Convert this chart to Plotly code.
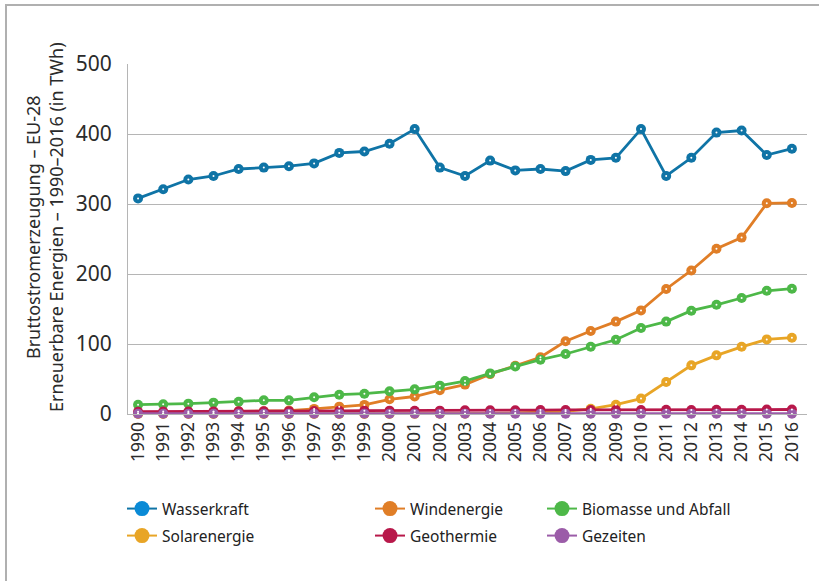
import plotly.graph_objects as go

years = list(range(1990, 2017))

wasserkraft = [308, 321, 335, 340, 350, 352, 354, 358, 373, 375, 386, 407, 352,
               340, 362, 348, 350, 347, 363, 366, 407, 340, 366, 402, 405, 370, 379]
windenergie = [0.8, 1.2, 1.9, 2.9, 3.8, 4.1, 4.9, 7.3, 10.5, 13, 21, 25, 34,
               42, 57, 69, 81, 104, 118.6, 132, 148, 178.6, 205, 236, 252, 301, 301.5]
biomasse = [13.3, 13.8, 14.8, 16.2, 17.6, 19.5, 19.5, 24, 27.6, 29, 32.4, 35.2, 40.5,
            47, 58, 68, 77.6, 85.7, 96, 106, 122.9, 132, 147.6, 156, 165.7, 176, 179]
solar = [0.0, 0.0, 0.0, 0.0, 0.0, 0.0, 0.0, 0.0, 0.1, 0.1, 0.1, 0.2, 0.3,
         0.5, 0.7, 1.5, 2.5, 3.8, 7.4, 13.3, 22, 45.7, 69.5, 83.8, 96, 106.6, 109]
geothermie = [3.2, 3.5, 3.6, 3.7, 3.8, 3.9, 4.1, 4.3, 4.6, 4.8, 4.8, 4.6, 4.8,
              5.3, 5.4, 5.4, 5.6, 5.8, 5.8, 5.6, 5.6, 5.9, 5.8, 5.9, 6.1, 6.5, 6.4]
gezeiten = [0.5] * 27

series_names = ["Wasserkraft", "Windenergie", "Biomasse und Abfall",
                "Solarenergie", "Geothermie", "Gezeiten"]
series_values = [wasserkraft, windenergie, biomasse, solar, geothermie, gezeiten]
line_colors = ["#0f74a6", "#e07e27", "#4db848", "#e8a526", "#b8184a", "#9b5ca8"]
legend_marker_colors = ["#0a8ad6", "#e07e27", "#4db848", "#e8a526", "#b8184a", "#9b5ca8"]
y_ticks = [0, 100, 200, 300, 400, 500]
y_title = "Bruttostromerzeugung – EU-28<br>Erneuerbare Energien – 1990–2016 (in TWh)"

FONT = "Noto Sans"

fig = go.Figure()

legend_ids = ["legend", "legend2", "legend3", "legend4", "legend5", "legend6"]

for name, vals, lc, lmc, lid in zip(series_names, series_values, line_colors,
                                    legend_marker_colors, legend_ids):
    fig.add_trace(go.Scatter(
        x=years, y=vals, name=name, mode="lines+markers",
        line=dict(color=lc, width=2.8),
        marker=dict(color=lc, size=10, line=dict(width=0)),
        legend=lid, showlegend=False, cliponaxis=False,
    ))
    # legend proxy
    fig.add_trace(go.Scatter(
        x=[None], y=[None], name=name, mode="lines+markers",
        line=dict(color=lc, width=2),
        marker=dict(color=lmc, size=15),
        legend=lid, showlegend=True,
    ))

# small white centre dots on the markers
for vals in series_values:
    fig.add_trace(go.Scatter(
        x=years, y=vals, mode="markers", hoverinfo="skip",
        marker=dict(color="white", size=2), showlegend=False, cliponaxis=False,
    ))

plot_l, plot_r, plot_t, plot_b = 128, 807, 64, 414
pw = plot_r - plot_l
ph = plot_b - plot_t
col_px = [122, 370, 542]
row_px = [509, 536]
layout_legends = {}
for i, lid in enumerate(legend_ids):
    c = i % 3
    r = i // 3
    layout_legends[lid] = dict(
        x=(col_px[c] - plot_l) / pw, xanchor="left",
        y=(plot_b - row_px[r]) / ph, yanchor="middle",
        bgcolor="rgba(0,0,0,0)", borderwidth=0,
        font=dict(family=FONT, size=15.5, color="#222222"),
        itemwidth=30,
    )

fig.update_layout(
    width=819, height=581,
    margin=dict(l=plot_l, r=819 - plot_r, t=plot_t, b=581 - plot_b, pad=0),
    paper_bgcolor="white", plot_bgcolor="white",
    font=dict(family=FONT, color="#333333"),
    showlegend=True,
    **layout_legends,
    xaxis=dict(
        range=[1989.6, 2016.6], tickmode="array", tickvals=years,
        ticktext=[str(y) for y in years], tickangle=-90,
        tickfont=dict(family=FONT, size=17.5, color="#2b2b2b"),
        showgrid=False, zeroline=False, showline=True,
        linecolor="#b5b5b5", linewidth=1, ticks="", ticklen=0,
    ),
    yaxis=dict(
        range=[0, 500], tickmode="array", tickvals=y_ticks,
        tickfont=dict(family=FONT, size=21, color="#2b2b2b"),
        showgrid=True, gridcolor="#b5b5b5", gridwidth=1,
        zeroline=False, showline=True, linecolor="#b5b5b5", linewidth=1,
        ticks="", ticklabelstandoff=11,
    ),
    annotations=[
        dict(text=y_title, xref="paper", yref="paper",
             x=(44 - plot_l) / pw, y=(plot_b - 227) / ph,
             xanchor="center", yanchor="middle", textangle=-90,
             showarrow=False, align="center",
             font=dict(family=FONT, size=18, color="#2b2b2b")),
    ],
    shapes=[
        dict(type="line", xref="paper", yref="paper",
             x0=(5 - plot_l) / pw, x1=(819 - plot_l) / pw,
             y0=(plot_b - 5) / ph, y1=(plot_b - 5) / ph,
             line=dict(color="#b0b0b0", width=2)),
        dict(type="line", xref="paper", yref="paper",
             x0=(6 - plot_l) / pw, x1=(6 - plot_l) / pw,
             y0=(plot_b - 5) / ph, y1=(plot_b - 581) / ph,
             line=dict(color="#b0b0b0", width=2)),
    ],
)

fig.write_html(
    "out.html",
    config={"displayModeBar": False},
    post_script=(
        "document.body.style.margin='0px';"
        "document.body.style.overflow='hidden';"
        "document.documentElement.style.overflow='hidden';"
    ),
)
